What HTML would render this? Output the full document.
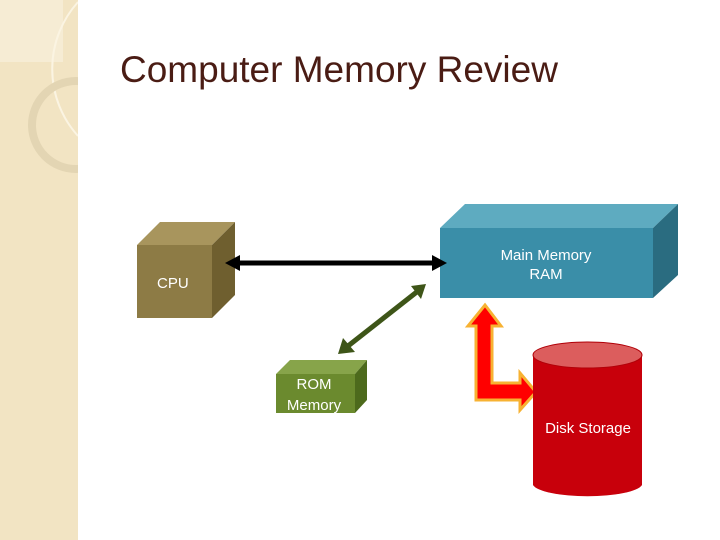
<!DOCTYPE html>
<html><head><style>body{margin:0;background:#fff}svg{display:block}text{font-family:"Liberation Sans",sans-serif}</style></head><body>
<svg width="720" height="540" viewBox="0 0 720 540">
<rect x="0" y="0" width="78" height="540" fill="#f2e4c3"/>
<rect x="0" y="0" width="63" height="62" fill="#f6ecd4"/>
<path d="M78 2 A100 100 0 0 0 78 136" fill="none" stroke="#fbf4e2" stroke-width="2"/>
<circle cx="76" cy="125" r="44" fill="none" stroke="#e3d5b3" stroke-width="8"/>
<rect x="78" y="0" width="642" height="540" fill="#fff"/>
<text x="120" y="82" font-size="37" fill="#4a1c14">Computer Memory Review</text>
<!-- CPU -->
<polygon points="137,245 160,222 235,222 212,245" fill="#a8955d"/>
<polygon points="212,245 235,222 235,295 212,318" fill="#6f5f2f"/>
<rect x="137" y="245" width="75" height="73" fill="#8d7b45"/>
<text x="157" y="288" font-size="15" fill="#fff">CPU</text>
<!-- RAM -->
<polygon points="440,228 465,204 678,204 653,228" fill="#5eabc0"/>
<polygon points="653,228 678,204 678,275 653,298" fill="#2a6c80"/>
<rect x="440" y="228" width="213" height="70" fill="#3a8ea8"/>
<text x="546" y="260" font-size="15" fill="#fff" text-anchor="middle">Main Memory</text>
<text x="546" y="279" font-size="15" fill="#fff" text-anchor="middle">RAM</text>
<!-- ROM -->
<polygon points="276,374 290,360 367,360 355,374" fill="#87a44a"/>
<polygon points="355,374 367,360 367,400 355,413" fill="#4d6a1c"/>
<rect x="276" y="374" width="79" height="39" fill="#6b8a2e"/>
<text x="314" y="389" font-size="15" fill="#fff" text-anchor="middle">ROM</text>
<text x="314" y="410" font-size="15" fill="#fff" text-anchor="middle">Memory</text>
<!-- black arrow -->
<line x1="238" y1="263" x2="434" y2="263" stroke="#000" stroke-width="5"/>
<polygon points="225,263 240,255 240,271" fill="#000"/>
<polygon points="447,263 432,255 432,271" fill="#000"/>
<!-- green arrow -->
<line x1="348" y1="346" x2="418" y2="291" stroke="#3e5518" stroke-width="5"/>
<polygon points="338,354 343,338 355,352" fill="#3e5518"/>
<polygon points="426,284 411,286 421,299" fill="#3e5518"/>
<!-- red L arrow -->
<polygon points="485,305 501,326 492,326 492,383 520,383 520,373 536,392 520,410 520,400 476,400 476,326 468,326" fill="#f00" stroke="#f7b232" stroke-width="3"/>
<!-- cylinder -->
<path d="M533 355 L533 485 A55 13 0 0 0 642 485 L642 355 Z" fill="#c8000b"/>
<ellipse cx="587.5" cy="355" rx="54.5" ry="13" fill="#dc5d5d" stroke="#b00008" stroke-width="1"/>
<text x="588" y="433" font-size="15" fill="#fff" text-anchor="middle">Disk Storage</text>
</svg>
</body></html>
